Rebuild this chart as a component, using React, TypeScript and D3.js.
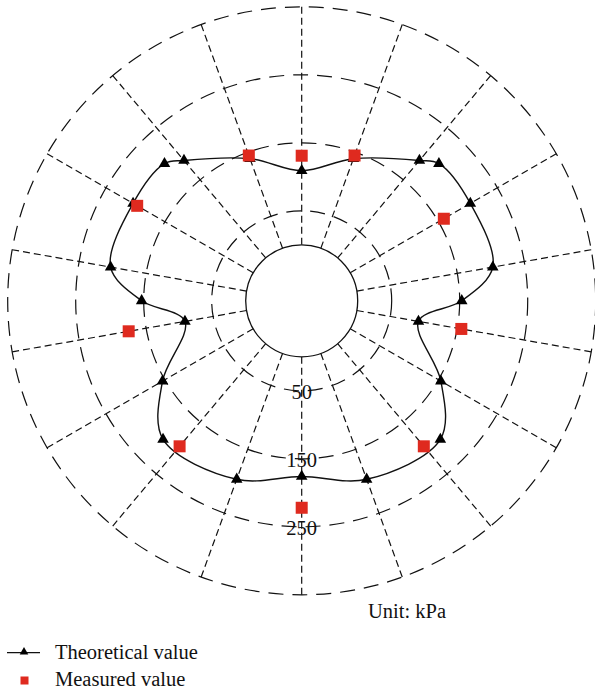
import React from "react";
import * as d3 from "d3";

// Angles in degrees, clockwise from 12 o'clock
const theoryAngles = [0, 20, 40, 45, 60, 80, 90, 100, 120, 135, 160, 180, 200, 225, 240, 260, 270, 280, 300, 315, 320, 340];
const theoryValues = [109, 140, 187, 203, 204, 203, 153, 92, 154, 206, 197, 176, 197, 206, 154, 92, 153, 203, 204, 203, 187, 140];

const measuredAngles = [0, 20, 60, 100, 140, 180, 220, 260, 300, 340];
const measuredValues = [131, 145, 159, 156, 197, 222, 197, 176, 197, 145];

const ringValues = [50, 150, 250, 350];
const ringLabels = ["50", "150", "250"];
const spokeAngles = d3.range(0, 360, 20);

const W = 595;
const H = 692;
const cx = 301.7;
const cy = 300.8;
const FONT = "'Liberation Serif', 'Times New Roman', serif";
const RED = "#df2a1f";

const r = d3.scaleLinear().domain([0, 350]).range([56, 294]);
const rad = (deg: number) => (deg * Math.PI) / 180;
const px = (deg: number, v: number) => r(v) * Math.sin(rad(deg));
const py = (deg: number, v: number) => -r(v) * Math.cos(rad(deg));

export default function App() {
  const theory = theoryAngles.map((a, i) => ({ a, v: theoryValues[i] }));
  const measured = measuredAngles.map((a, i) => ({ a, v: measuredValues[i] }));

  const curve = d3
    .lineRadial<{ a: number; v: number }>()
    .angle((d) => rad(d.a))
    .radius((d) => r(d.v))
    .curve(d3.curveCatmullRomClosed.alpha(0.5))(theory) as string;

  const tri = d3.symbol().type(d3.symbolTriangle).size(58)() as string;
  const triSmall = d3.symbol().type(d3.symbolTriangle).size(32)() as string;
  const sq = 12;

  return (
    <svg
      width={W}
      height={H}
      style={{ position: "absolute", left: 0, top: 0, background: "#fff" }}
    >
      <g transform={`translate(${cx},${cy})`}>
        {ringValues.map((v) => (
          <circle
            key={v}
            r={r(v)}
            fill="none"
            stroke="#111"
            strokeWidth={1.2}
            strokeDasharray="15,9"
          />
        ))}
        {spokeAngles.map((a) => (
          <line
            key={a}
            x1={px(a, 0)}
            y1={py(a, 0)}
            x2={px(a, 350)}
            y2={py(a, 350)}
            stroke="#111"
            strokeWidth={1.2}
            strokeDasharray="7,4"
          />
        ))}
        <circle r={r(0)} fill="#fff" stroke="#111" strokeWidth={1.3} />
        <path d={curve} fill="none" stroke="#111" strokeWidth={1.4} />
        {theory.map((d, i) => (
          <path
            key={i}
            d={tri}
            transform={`translate(${px(d.a, d.v)},${py(d.a, d.v)})`}
            fill="#000"
          />
        ))}
        {measured.map((d, i) => (
          <rect
            key={i}
            x={px(d.a, d.v) - sq / 2}
            y={py(d.a, d.v) - sq / 2}
            width={sq}
            height={sq}
            fill={RED}
          />
        ))}
        {ringLabels.map((t, i) => (
          <text
            key={t}
            x={0}
            y={r(ringValues[i]) + 1}
            textAnchor="middle"
            dominantBaseline="central"
            fontFamily={FONT}
            fontSize={20.5}
            fill="#111"
          >
            {t}
          </text>
        ))}
      </g>
      <text x={368} y={618} fontFamily={FONT} fontSize={20.5} fill="#111">
        Unit: kPa
      </text>
      <g>
        <line x1={7} x2={40} y1={652.7} y2={652.7} stroke="#111" strokeWidth={1.2} />
        <path d={triSmall} transform="translate(24,652)" fill="#000" />
        <text x={55} y={658.5} fontFamily={FONT} fontSize={20.5} fill="#111">
          Theoretical value
        </text>
        <rect x={20.5} y={676.5} width={8} height={8} fill={RED} />
        <text x={55} y={685.5} fontFamily={FONT} fontSize={20.5} fill="#111">
          Measured value
        </text>
      </g>
    </svg>
  );
}
